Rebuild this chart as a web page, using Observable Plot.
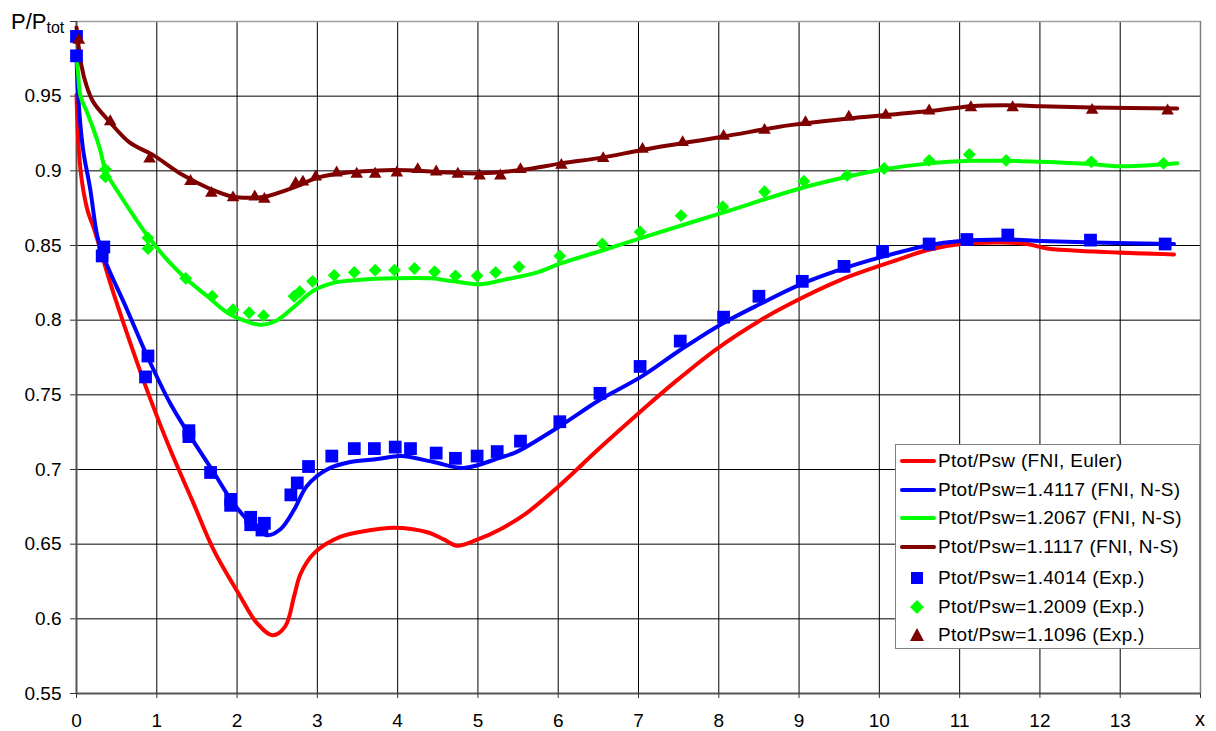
<!DOCTYPE html>
<html><head><meta charset="utf-8">
<script src="https://cdn.jsdelivr.net/npm/d3@7"></script>
<script src="https://cdn.jsdelivr.net/npm/@observablehq/plot@0.6"></script>
<style>
body{margin:0;background:#fff;font-family:"Liberation Sans",Arial,sans-serif;color:#000;}
#wrap{position:relative;width:1216px;height:731px;overflow:hidden;}
#wrap > svg{position:absolute;left:0;top:0;}
.ylab{position:absolute;left:11px;top:11px;font-size:22px;line-height:22px;white-space:nowrap;}
.ylab span{font-size:16px;position:relative;top:4px;}
.xlab{position:absolute;left:1195px;top:709px;font-size:20px;line-height:20px;}
#legend{position:absolute;left:895px;top:444px;width:303px;height:203px;border:1px solid #808080;background:#fff;}
.row{position:absolute;left:0;height:28px;width:300px;}
.row svg{position:absolute;left:0;top:0;}
.row .t{position:absolute;left:42px;top:0;line-height:28px;font-size:19px;white-space:nowrap;letter-spacing:0.3px;}
</style></head><body><div id="wrap"></div>
<script>
// ---- axis ticks ----
const xTicks = [0,1,2,3,4,5,6,7,8,9,10,11,12,13,14];
const yTicks = [0.55,0.6,0.65,0.7,0.75,0.8,0.85,0.9,0.95,1.0];

// ---- FNI Euler (red line) ----
const eulerX = [0,0.03,0.07,0.14,0.22,0.42,0.63,0.88,1.17,1.46,1.71,2.04,2.25,2.44,2.6,2.71,2.79,2.96,3.29,3.62,3.95,4.37,4.58,4.74,4.99,5.28,5.61,5.99,6.53,7.03,7.44,7.98,8.52,8.89,9.52,10.26,10.6,11.01,11.51,11.84,12.09,12.67,13.67];
const eulerY = [0.951,0.913,0.892,0.873,0.861,0.825,0.791,0.753,0.713,0.677,0.646,0.615,0.597,0.589,0.595,0.615,0.630,0.644,0.655,0.659,0.661,0.658,0.653,0.649,0.653,0.660,0.671,0.688,0.715,0.739,0.758,0.781,0.800,0.811,0.827,0.841,0.847,0.851,0.852,0.851,0.848,0.846,0.844];

// ---- FNI N-S 1.4117 (blue line) ----
const ns14X = [0,0.02,0.08,0.17,0.26,0.34,0.63,0.88,1.17,1.42,1.71,1.96,2.21,2.37,2.54,2.71,2.87,3.12,3.41,3.75,4.04,4.45,4.82,5.28,5.49,5.99,6.53,7.03,7.52,8.02,8.52,9.02,9.52,10.01,10.6,11.01,11.59,12.01,12.67,13.67];
const ns14Y = [0.978,0.951,0.915,0.888,0.856,0.842,0.807,0.776,0.744,0.722,0.698,0.677,0.662,0.656,0.660,0.673,0.689,0.700,0.705,0.707,0.709,0.705,0.701,0.708,0.712,0.728,0.747,0.762,0.780,0.797,0.811,0.824,0.834,0.842,0.850,0.853,0.854,0.853,0.852,0.851];

// ---- FNI N-S 1.2067 (green line) ----
const ns12X = [0,0.02,0.05,0.125,0.21,0.29,0.37,0.54,0.71,0.92,1.17,1.38,1.63,1.88,2.13,2.29,2.5,2.71,2.96,3.2,3.54,3.95,4.41,4.7,5.02,5.32,5.74,6.03,6.57,7.03,8.02,9.0,9.6,10.06,10.62,11.14,11.59,12.01,12.63,13.05,13.71];
const ns12Y = [0.978,0.965,0.950,0.940,0.928,0.915,0.899,0.884,0.870,0.854,0.838,0.827,0.816,0.805,0.799,0.797,0.800,0.809,0.820,0.825,0.827,0.828,0.828,0.826,0.824,0.827,0.832,0.838,0.847,0.855,0.8715,0.888,0.896,0.901,0.905,0.9067,0.9067,0.906,0.9045,0.903,0.905];

// ---- FNI N-S 1.1117 (dark red line) ----
const ns11X = [0,0.06,0.125,0.21,0.41,0.66,0.955,1.33,1.66,1.95,2.24,2.34,2.71,2.98,3.25,3.95,4.49,5.02,5.53,6.04,6.56,7.05,8.06,8.89,9.62,10.62,11.14,11.55,12.01,12.65,13.71];
const ns11Y = [0.996,0.971,0.957,0.946,0.933,0.919,0.9105,0.897,0.888,0.8826,0.882,0.8826,0.889,0.895,0.898,0.9005,0.8993,0.8983,0.9005,0.905,0.909,0.914,0.923,0.9306,0.935,0.940,0.9433,0.944,0.9433,0.9424,0.9417];

// ---- Exp 1.4014 (blue squares) ----
const exp14X = [0,0,0.32,0.34,0.86,0.89,1.4,1.4,1.67,1.92,1.92,2.17,2.17,2.31,2.34,2.67,2.75,2.89,3.18,3.46,3.71,3.97,4.16,4.48,4.72,4.99,5.24,5.53,6.02,6.52,7.02,7.52,8.06,8.5,9.04,9.56,10.04,10.62,11.09,11.6,12.63,13.56];
const exp14Y = [0.990,0.977,0.843,0.849,0.762,0.776,0.722,0.726,0.698,0.676,0.680,0.663,0.668,0.6595,0.664,0.683,0.691,0.702,0.709,0.714,0.714,0.715,0.714,0.711,0.7075,0.709,0.712,0.719,0.732,0.751,0.769,0.786,0.802,0.816,0.826,0.836,0.846,0.851,0.854,0.857,0.8536,0.851];

// ---- Exp 1.2009 (green diamonds) ----
const exp12X = [0.36,0.36,0.89,0.89,1.36,1.69,1.95,2.15,2.33,2.71,2.78,2.94,3.21,3.46,3.72,3.96,4.21,4.46,4.72,4.99,5.22,5.51,6.02,6.55,7.02,7.53,8.05,8.57,9.06,9.6,10.06,10.62,11.12,11.58,12.64,13.54];
const exp12Y = [0.901,0.896,0.855,0.848,0.828,0.816,0.807,0.805,0.803,0.816,0.819,0.826,0.830,0.832,0.8335,0.8335,0.8346,0.8324,0.8297,0.8297,0.832,0.8357,0.843,0.851,0.859,0.870,0.876,0.886,0.893,0.897,0.9016,0.907,0.911,0.907,0.906,0.905];

// ---- Exp 1.1096 (dark red triangles) ----
const exp11X = [0.03,0.42,0.91,1.42,1.68,1.95,2.22,2.34,2.73,2.82,2.98,3.24,3.49,3.72,3.99,4.25,4.48,4.75,5.02,5.28,5.53,6.04,6.56,7.05,7.55,8.06,8.57,9.08,9.62,10.08,10.62,11.14,11.66,12.65,13.59];
const exp11Y = [0.9875,0.933,0.908,0.893,0.885,0.882,0.8826,0.881,0.8916,0.8926,0.896,0.8987,0.8978,0.8978,0.8987,0.9009,0.8993,0.8978,0.8967,0.8967,0.9009,0.9038,0.9083,0.9145,0.919,0.9232,0.9272,0.9324,0.9361,0.9373,0.9402,0.9424,0.9424,0.9406,0.9402];

const legendLabels = [
  "Ptot/Psw (FNI, Euler)",
  "Ptot/Psw=1.4117 (FNI, N-S)",
  "Ptot/Psw=1.2067 (FNI, N-S)",
  "Ptot/Psw=1.1117 (FNI, N-S)",
  "Ptot/Psw=1.4014 (Exp.)",
  "Ptot/Psw=1.2009 (Exp.)",
  "Ptot/Psw=1.1096 (Exp.)"
];
const colors = ["#ff0000","#0000ff","#00ff00","#800000"];

const lineOpts = (xs, ys, c) => Plot.line(xs, {x: xs, y: ys, stroke: c, strokeWidth: 4, curve: "catmull-rom", strokeLinejoin: "round", strokeLinecap: "round"});

const plot = Plot.plot({
  width: 1216, height: 731,
  marginLeft: 76, marginRight: 16, marginTop: 21, marginBottom: 38,
  style: {fontFamily: "'Liberation Sans', Arial, sans-serif", background: "white", color: "#000", overflow: "visible"},
  x: {domain: [0, 14]},
  y: {domain: [0.55, 1.0]},
  marks: [
    Plot.ruleY(yTicks.slice(1, -1), {stroke: "#000", strokeWidth: 1}),
    Plot.ruleX(xTicks.slice(1, -1), {stroke: "#000", strokeWidth: 1}),
    Plot.ruleY([1.0], {stroke: "#a0a0a0", strokeWidth: 1.5}),
    Plot.ruleX([14], {stroke: "#808080", strokeWidth: 1.5}),
    Plot.ruleX([0], {stroke: "#555", strokeWidth: 2}),
    Plot.ruleY([0.55], {stroke: "#555", strokeWidth: 2}),
    Plot.axisX(xTicks, {tickFormat: d => d === 14 ? "" : String(d), tickSize: 5, tickPadding: 15, fontSize: 19, label: null, stroke: "#333"}),
    Plot.axisY(yTicks, {tickFormat: d => d >= 0.999 ? "" : String(+d.toFixed(2)), tickSize: 6, tickPadding: 9, fontSize: 19, label: null, stroke: "#333"}),
    lineOpts(eulerX, eulerY, colors[0]),
    lineOpts(ns14X, ns14Y, colors[1]),
    lineOpts(ns12X, ns12Y, colors[2]),
    lineOpts(ns11X, ns11Y, colors[3]),
    Plot.dot(exp14X, {x: exp14X, y: exp14Y, symbol: "square", r: 7.2, fill: colors[1], stroke: "none"}),
    Plot.dot(exp12X, {x: exp12X, y: exp12Y, symbol: "diamond2", r: 5.8, fill: colors[2], stroke: "none"}),
    Plot.dot(exp11X, {x: exp11X, y: exp11Y, symbol: "triangle2", r: 6.0, fill: colors[3], stroke: "none"})
  ]
});

const wrap = document.getElementById("wrap");
wrap.appendChild(plot);

const yl = document.createElement("div");
yl.className = "ylab";
yl.innerHTML = "P/P<span>tot</span>";
wrap.appendChild(yl);

const xl = document.createElement("div");
xl.className = "xlab";
xl.textContent = "x";
wrap.appendChild(xl);

// legend
const leg = document.createElement("div");
leg.id = "legend";
const rowTops = [2, 31, 59, 88, 119, 148, 176];
legendLabels.forEach((lab, i) => {
  const r = document.createElement("div");
  r.className = "row";
  r.style.top = rowTops[i] + "px";
  let sw;
  if (i < 4) {
    sw = `<svg width="40" height="28"><line x1="6" x2="38" y1="14" y2="14" stroke="${colors[i]}" stroke-width="4" stroke-linecap="round"/></svg>`;
  } else if (i === 4) {
    sw = `<svg width="40" height="28"><rect x="15" y="8" width="12" height="12" fill="${colors[1]}"/></svg>`;
  } else if (i === 5) {
    sw = `<svg width="40" height="28"><path d="M21,7 L28,14 L21,21 L14,14 Z" fill="${colors[2]}"/></svg>`;
  } else {
    sw = `<svg width="40" height="28"><path d="M21,7 L28,20 L14,20 Z" fill="${colors[3]}"/></svg>`;
  }
  r.innerHTML = sw + `<div class="t">${lab}</div>`;
  leg.appendChild(r);
});
wrap.appendChild(leg);
</script>
</body></html>
